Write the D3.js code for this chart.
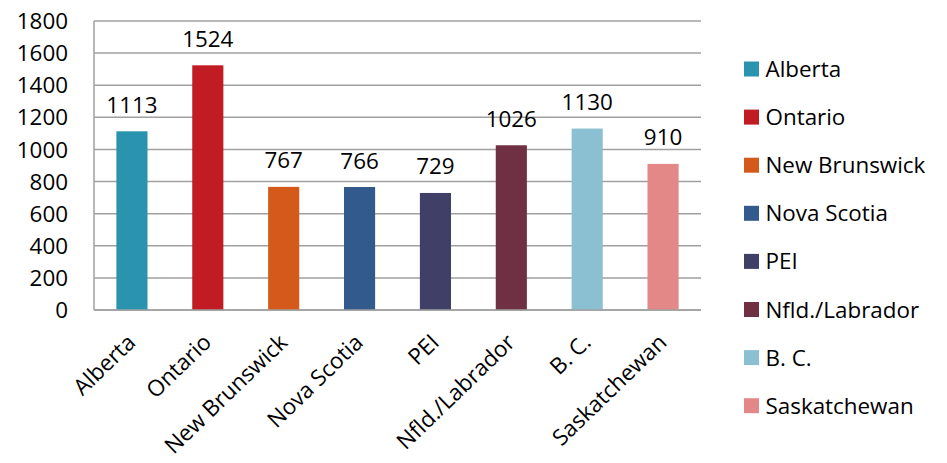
<!DOCTYPE html>
<html>
<head>
<meta charset="utf-8">
<script src="https://cdn.jsdelivr.net/npm/d3@7"></script>
<style>
  html, body { margin: 0; padding: 0; background: #fff; }
  text { font-family: "Open Sans", "Liberation Sans", sans-serif; fill: #000; font-size: 22.4px; }
</style>
</head>
<body>
<svg id="chart" width="947" height="463"></svg>
<script>
const categories = ["Alberta", "Ontario", "New Brunswick", "Nova Scotia", "PEI", "Nfld./Labrador", "B. C.", "Saskatchewan"];
const values = [1113, 1524, 767, 766, 729, 1026, 1130, 910];
const colors = ["#2a93ad", "#c11b24", "#d35a1a", "#325a8c", "#3f3f68", "#6e3042", "#8bbfd2", "#e38787"];
const yTicks = [0, 200, 400, 600, 800, 1000, 1200, 1400, 1600, 1800];

const svg = d3.select("#chart");
const plot = { left: 94, right: 701, top: 21, bottom: 310 };

const x = d3.scaleBand().domain(categories).range([plot.left, plot.right]).paddingInner(0.59).paddingOuter(0.295);
const y = d3.scaleLinear().domain([0, 1800]).range([plot.bottom, plot.top]);

// horizontal gridlines
svg.append("g").selectAll("line").data(yTicks).join("line")
  .attr("x1", plot.left).attr("x2", plot.right)
  .attr("y1", d => y(d)).attr("y2", d => y(d))
  .attr("stroke", "#a0a0a0").attr("stroke-width", 1.5);

// left axis line and tick labels
svg.append("line")
  .attr("x1", plot.left).attr("x2", plot.left)
  .attr("y1", plot.top).attr("y2", plot.bottom)
  .attr("stroke", "#a0a0a0").attr("stroke-width", 1.5);

svg.append("g").selectAll("text").data(yTicks).join("text")
  .attr("x", plot.left - 26).attr("y", d => y(d))
  .attr("dy", "0.36em").attr("text-anchor", "end")
  .text(d => d);

// bars
svg.append("g").selectAll("rect").data(values).join("rect")
  .attr("x", (d, i) => x(categories[i]))
  .attr("width", x.bandwidth())
  .attr("y", d => y(d))
  .attr("height", d => y(0) - y(d))
  .attr("fill", (d, i) => colors[i]);

// value labels above bars
svg.append("g").selectAll("text").data(values).join("text")
  .attr("x", (d, i) => x(categories[i]) + x.bandwidth() / 2)
  .attr("y", d => y(d) - 18.5)
  .attr("text-anchor", "middle")
  .text(d => d);

// bottom axis line
svg.append("line")
  .attr("x1", plot.left).attr("x2", plot.right)
  .attr("y1", plot.bottom).attr("y2", plot.bottom)
  .attr("stroke", "#a0a0a0").attr("stroke-width", 1.5);

// rotated category labels
svg.append("g").selectAll("text").data(categories).join("text")
  .attr("transform", d => `translate(${x(d) + x.bandwidth() / 2 + 5},${plot.bottom + 34}) rotate(-44)`)
  .attr("text-anchor", "end")
  .text(d => d);

// legend
const legend = svg.append("g").selectAll("g").data(categories).join("g")
  .attr("transform", (d, i) => `translate(744,${69 + i * 48.1})`);
legend.append("rect")
  .attr("x", 0).attr("y", -7.5).attr("width", 15).attr("height", 15)
  .attr("fill", (d, i) => colors[i]);
legend.append("text")
  .attr("x", 21.5).attr("y", 0).attr("dy", "0.36em")
  .text(d => d);
</script>
</body>
</html>
